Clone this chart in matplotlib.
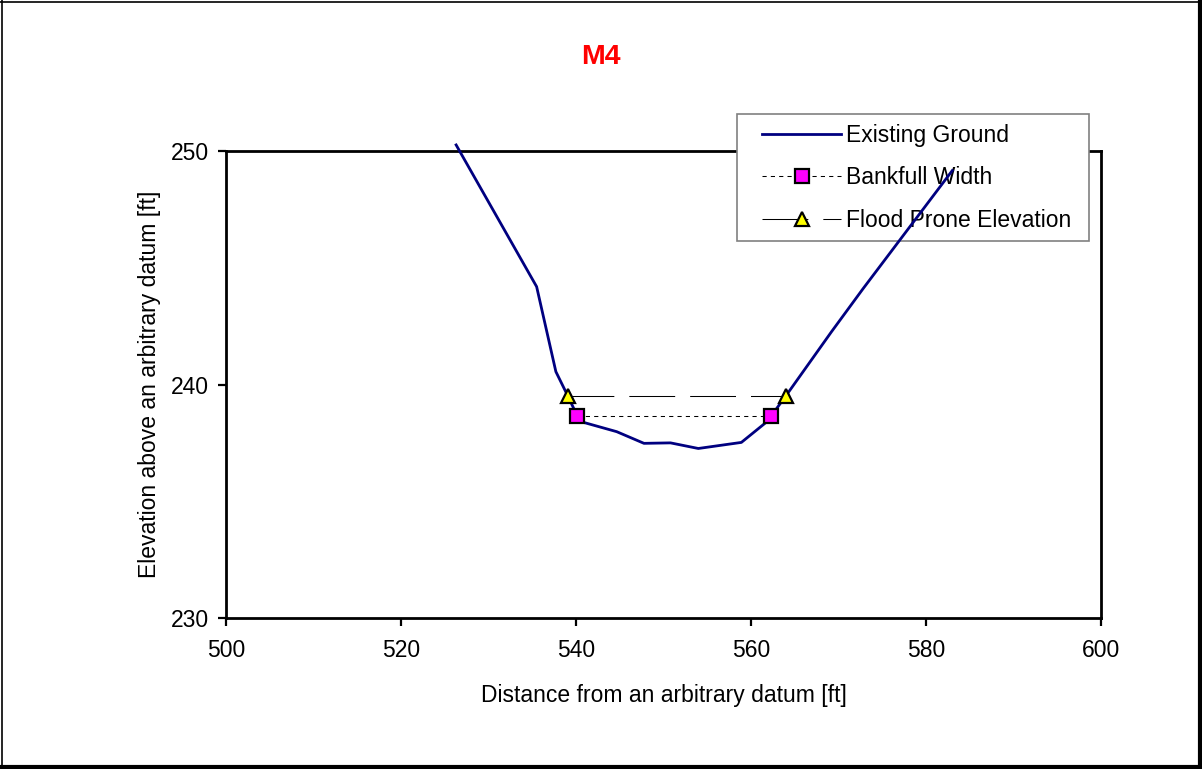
import matplotlib
matplotlib.use("Agg")
import matplotlib.pyplot as plt
from matplotlib.lines import Line2D
from matplotlib.patches import Rectangle

plt.rcParams['font.family'] = ['Liberation Sans', 'DejaVu Sans']

# Cross-section survey of reach M4
station = [526.3, 535.5, 537.7, 539.05, 540.15, 540.84, 544.65, 547.77,
           550.8, 553.98, 558.9, 561.6, 562.3, 564.0, 569.2, 572.8, 583.0]
elevation = [250.26, 244.19, 240.55, 239.52, 238.65, 238.38, 237.98, 237.48,
             237.5, 237.26, 237.52, 238.34, 238.65, 239.52, 242.26, 244.1, 249.16]

bankfull_x = [540.15, 562.3]
bankfull_y = [238.65, 238.65]

flood_x = [539.05, 564.0]
flood_y = [239.52, 239.52]

x_ticks = [500, 520, 540, 560, 580, 600]
y_ticks = [230, 240, 250]

W, H = 1202, 769
fig = plt.figure(figsize=(W / 100, H / 100), dpi=100)
ax = fig.add_axes([226 / W, 1 - 618 / H, (1101 - 226) / W, (618 - 151) / H])

ax.plot(station, elevation, color='#000080', lw=2.0, zorder=4,
        clip_on=False, label='Existing Ground')
ax.plot(bankfull_x, bankfull_y, color='black', lw=0.75, dashes=(4, 4),
        marker='s', ms=9.5, mfc='#FF00FF', mec='black', mew=1.6,
        zorder=5, clip_on=False, label='Bankfull Width')
ax.plot(flood_x, flood_y, color='black', lw=0.75, dashes=(44, 14.4),
        marker='^', ms=10.5, mfc='#FFFF00', mec='black', mew=1.6,
        zorder=5, clip_on=False, label='Flood Prone Elevation')

ax.set_xlim(500, 600)
ax.set_ylim(230, 250)
ax.set_xticks(x_ticks)
ax.set_yticks(y_ticks)
ax.tick_params(direction='out', length=6, width=1.6, labelsize=16.5)
ax.tick_params(axis='x', pad=9)
ax.tick_params(axis='y', pad=6)
for sp in ax.spines.values():
    sp.set_linewidth(2.0)

ax.set_xlabel('Distance from an arbitrary datum [ft]', fontsize=16.5, labelpad=16)
ax.set_ylabel('Elevation above an arbitrary datum [ft]', fontsize=16.5, labelpad=7)

fig.text(601 / W, 1 - 57 / H, 'M4', color='#FF0000', fontsize=20.5,
         fontweight='bold', ha='center', va='center')

# Legend box, sitting over the top spine but under the ground line
box = Rectangle((737 / W, 1 - 241 / H), (1089 - 737) / W, (241 - 114) / H,
                transform=fig.transFigure, facecolor='white',
                edgecolor='#808080', lw=1.2, zorder=2.6, clip_on=False)
ax.add_artist(box)

leg = ax.legend(loc='upper left', bbox_to_anchor=(762 / W, 1 - 124 / H),
                bbox_transform=fig.transFigure, borderaxespad=0, borderpad=0,
                fontsize=16.5, frameon=False, numpoints=1,
                handlelength=3.45, handletextpad=0.22, labelspacing=0.85)
leg.set_zorder(3)

# Figure border
fig.add_artist(Line2D([1.5 / W, 1.5 / W], [0, 1], color='black', lw=1.2,
                      transform=fig.transFigure))
fig.add_artist(Line2D([0, 1], [1 - 1.5 / H, 1 - 1.5 / H], color='black', lw=1.2,
                      transform=fig.transFigure))
fig.add_artist(Line2D([1 - 2 / W, 1 - 2 / W], [0, 1], color='black', lw=3,
                      transform=fig.transFigure))
fig.add_artist(Line2D([0, 1], [2 / H, 2 / H], color='black', lw=3,
                      transform=fig.transFigure))

fig.savefig('out.png', dpi=100)
